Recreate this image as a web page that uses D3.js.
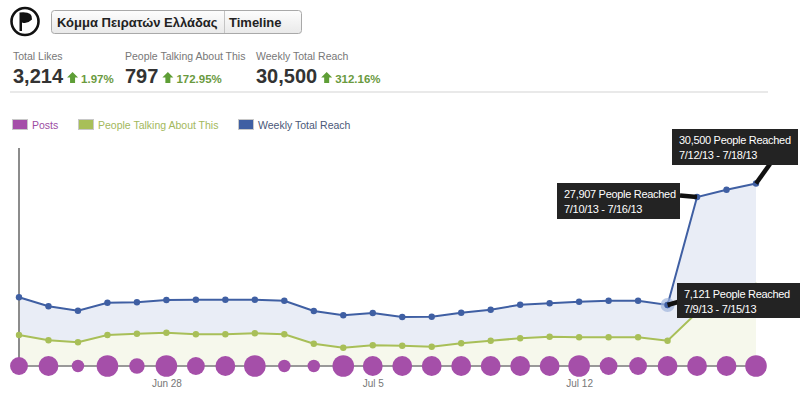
<!DOCTYPE html>
<html>
<head>
<meta charset="utf-8">
<script src="https://cdn.jsdelivr.net/npm/d3@7"></script>
<style>
  body { margin: 0; background: #fff; }
  svg { display: block; font-family: "Liberation Sans", Arial, sans-serif; }
</style>
</head>
<body>
<div id="chart"></div>
<script>
// Page insights timeline, one point per day (weekly rolling values)
const days = ["2013-06-23","2013-06-24","2013-06-25","2013-06-26","2013-06-27","2013-06-28","2013-06-29",
  "2013-06-30","2013-07-01","2013-07-02","2013-07-03","2013-07-04","2013-07-05","2013-07-06",
  "2013-07-07","2013-07-08","2013-07-09","2013-07-10","2013-07-11","2013-07-12","2013-07-13",
  "2013-07-14","2013-07-15","2013-07-16","2013-07-17","2013-07-18"];
const posts = [3,4,1,5,2,5,3,4,5,1,1,5,4,4,4,4,4,4,4,5,3,3,4,4,4,5];
const talking = [309,256,236,309,322,332,316,316,326,316,222,182,206,202,192,226,252,276,292,286,286,286,252,532,690,797];
const reach = [8600,6870,6020,7560,7640,8080,8140,8140,8140,7950,5970,5140,5580,4810,4870,5640,6220,7180,7450,7750,7950,7950,7121,27907,29300,30500];
const tickDays = ["2013-06-28","2013-07-05","2013-07-12"];

const seriesNames = ["Posts", "People Talking About This", "Weekly Total Reach"];
const stats = [
  {label: "Total Likes", value: "3,214", change: "1.97%"},
  {label: "People Talking About This", value: "797", change: "172.95%"},
  {label: "Weekly Total Reach", value: "30,500", change: "312.16%"}
];
const callouts = [
  {day: "2013-07-15", text: "7,121 People Reached", range: "7/9/13 - 7/15/13"},
  {day: "2013-07-16", text: "27,907 People Reached", range: "7/10/13 - 7/16/13"},
  {day: "2013-07-18", text: "30,500 People Reached", range: "7/12/13 - 7/18/13"}
];

const width = 800, height = 396;
const purple = "#a54fa9", green = "#a8bf58", blue = "#3f5fa3";
const parse = d3.timeParse("%Y-%m-%d");
const data = days.map((d, i) => ({date: parse(d), posts: posts[i], talking: talking[i], reach: reach[i]}));

const svg = d3.select("#chart").append("svg")
    .attr("width", width)
    .attr("height", height);

// ---- header: logo + page name box
const logo = svg.append("g");
logo.append("circle").attr("cx", 25).attr("cy", 21.5).attr("r", 13.5)
    .attr("fill", "#fff").attr("stroke", "#111").attr("stroke-width", 2.6);
logo.append("path")
    .attr("d", "M19.5,31 L19.5,12.5 Q33,11 32,19.5 Q27,24.5 22,22.5 L22,31 Z")
    .attr("fill", "#111");

const grad = svg.append("defs").append("linearGradient")
    .attr("id", "hdr").attr("x1", 0).attr("y1", 0).attr("x2", 0).attr("y2", 1);
grad.append("stop").attr("offset", "0%").attr("stop-color", "#fdfdfd");
grad.append("stop").attr("offset", "100%").attr("stop-color", "#e9e9e9");

svg.append("rect").attr("x", 51.5).attr("y", 10.5).attr("width", 250).attr("height", 23)
    .attr("rx", 3).attr("fill", "url(#hdr)").attr("stroke", "#a9a9a9");
svg.append("line").attr("x1", 224.5).attr("x2", 224.5).attr("y1", 11).attr("y2", 33)
    .attr("stroke", "#c4c4c4");
svg.append("text").attr("x", 57).attr("y", 27)
    .attr("font-size", 13).attr("font-weight", "bold").attr("fill", "#222")
    .text("Κόμμα Πειρατών Ελλάδας");
svg.append("text").attr("x", 229).attr("y", 27)
    .attr("font-size", 13).attr("font-weight", "bold").attr("fill", "#222")
    .text("Timeline");

// ---- summary numbers
const statX = [13, 125, 256];
const arrow = "M5.5,0 L11,5.5 L8,5.5 L8,11 L3,11 L3,5.5 L0,5.5 Z";
stats.forEach((s, i) => {
    const g = svg.append("g").attr("transform", `translate(${statX[i]},0)`);
    g.append("text").attr("y", 60).attr("font-size", 10.5).attr("fill", "#777").text(s.label);
    const v = g.append("text").attr("y", 83).attr("font-size", 20).attr("font-weight", "bold")
        .attr("fill", "#333").text(s.value);
    const w = v.node().getComputedTextLength();
    g.append("path").attr("d", arrow).attr("fill", "#5e9e36")
        .attr("transform", `translate(${w + 4},72)`);
    g.append("text").attr("x", w + 18).attr("y", 83).attr("font-size", 11.5)
        .attr("font-weight", "bold").attr("fill", "#6a9a3e").text(s.change);
});
svg.append("line").attr("x1", 10).attr("x2", 768).attr("y1", 92).attr("y2", 92)
    .attr("stroke", "#e2e2e2").attr("stroke-width", 1.5);

// ---- legend
const legendX = [12, 78, 238];
const legendColors = [purple, green, blue];
const legendText = ["#9c4ca2", "#a3b85c", "#4a5878"];
seriesNames.forEach((name, i) => {
    svg.append("rect").attr("x", legendX[i] + 0.5).attr("y", 119.5).attr("width", 15).attr("height", 10)
        .attr("fill", legendColors[i]).attr("stroke", "#c8c8c8");
    svg.append("text").attr("x", legendX[i] + 20).attr("y", 128.5)
        .attr("font-size", 10.5).attr("fill", legendText[i]).text(name);
});

// ---- scales
const plotBottom = 366;
const x = d3.scaleTime()
    .domain(d3.extent(data, d => d.date))
    .range([19, 756]);
const yReach = d3.scaleLinear().domain([0, 30500]).range([342, 183.5]);
const yTalk = d3.scaleLinear().domain([0, 797]).range([plotBottom, 286]);
const r = d3.scaleSqrt().domain([0, 5]).range([2.5, 10.8]);

// areas
svg.append("path").datum(data)
    .attr("fill", "#e9edf6")
    .attr("d", d3.area().x(d => x(d.date)).y0(plotBottom).y1(d => yReach(d.reach)));
svg.append("path").datum(data)
    .attr("fill", "#f6f8ec")
    .attr("d", d3.area().x(d => x(d.date)).y0(plotBottom).y1(d => yTalk(d.talking)));

// axes lines
svg.append("line").attr("x1", 19).attr("x2", 19).attr("y1", 148).attr("y2", plotBottom)
    .attr("stroke", "#8c8c8c").attr("stroke-width", 2);

const xAxis = d3.axisBottom(x)
    .tickValues(tickDays.map(parse))
    .tickFormat(d3.timeFormat("%b %-d"))
    .tickSize(0)
    .tickPadding(14);
const gx = svg.append("g").attr("transform", `translate(0,${plotBottom})`).call(xAxis);
gx.select(".domain").remove();
gx.selectAll("text").attr("font-family", "Liberation Sans, Arial, sans-serif")
    .attr("font-size", 10).attr("fill", "#777");

svg.append("line").attr("x1", 19).attr("x2", 756).attr("y1", plotBottom).attr("y2", plotBottom)
    .attr("stroke", "#999").attr("stroke-width", 2);

// talking line
svg.append("path").datum(data)
    .attr("fill", "none").attr("stroke", green).attr("stroke-width", 2)
    .attr("d", d3.line().x(d => x(d.date)).y(d => yTalk(d.talking)));
svg.selectAll(".tdot").data(data).enter().append("circle")
    .attr("class", "tdot")
    .attr("cx", d => x(d.date)).attr("cy", d => yTalk(d.talking))
    .attr("r", 3.2).attr("fill", green);

// reach line
svg.append("path").datum(data)
    .attr("fill", "none").attr("stroke", blue).attr("stroke-width", 2)
    .attr("d", d3.line().x(d => x(d.date)).y(d => yReach(d.reach)));
svg.selectAll(".rdot").data(data).enter().append("circle")
    .attr("class", "rdot")
    .attr("cx", d => x(d.date)).attr("cy", d => yReach(d.reach))
    .attr("r", 3.2).attr("fill", blue);

// posts bubbles
svg.selectAll(".post").data(data).enter().append("circle")
    .attr("class", "post")
    .attr("cx", d => x(d.date)).attr("cy", plotBottom)
    .attr("r", d => r(d.posts))
    .attr("fill", purple);

// ---- callouts (dark boxes joined to their point)
const boxLayout = [
    {bx: 677, by: 283, bw: 123, bh: 35, lx: 678, ly: 302},
    {bx: 557, by: 183, bw: 123, bh: 36, lx: 680, ly: 195.5},
    {bx: 672, by: 129, bw: 126, bh: 36, lx: 770, ly: 164}
];
callouts.forEach((c, i) => {
    const d = data.find(p => +p.date === +parse(c.day));
    const px = x(d.date), py = yReach(d.reach);
    const b = boxLayout[i];
    if (i === 0) {
        svg.append("circle").attr("cx", px).attr("cy", py).attr("r", 7)
            .attr("fill", "#9fb5dd").attr("opacity", 0.7);
        svg.append("circle").attr("cx", px).attr("cy", py).attr("r", 3.2).attr("fill", blue);
    }
    svg.append("line").attr("x1", px).attr("y1", py).attr("x2", b.lx).attr("y2", b.ly)
        .attr("stroke", "#111").attr("stroke-width", 4.5);
    svg.append("rect").attr("x", b.bx).attr("y", b.by).attr("width", b.bw).attr("height", b.bh)
        .attr("fill", "#232323");
    const t = svg.append("text").attr("fill", "#fff").attr("font-size", 11)
        .attr("letter-spacing", "-0.3px");
    t.append("tspan").attr("x", b.bx + 7).attr("y", b.by + 15).text(c.text);
    t.append("tspan").attr("x", b.bx + 7).attr("y", b.by + 30).text(c.range);
});
</script>
</body>
</html>
